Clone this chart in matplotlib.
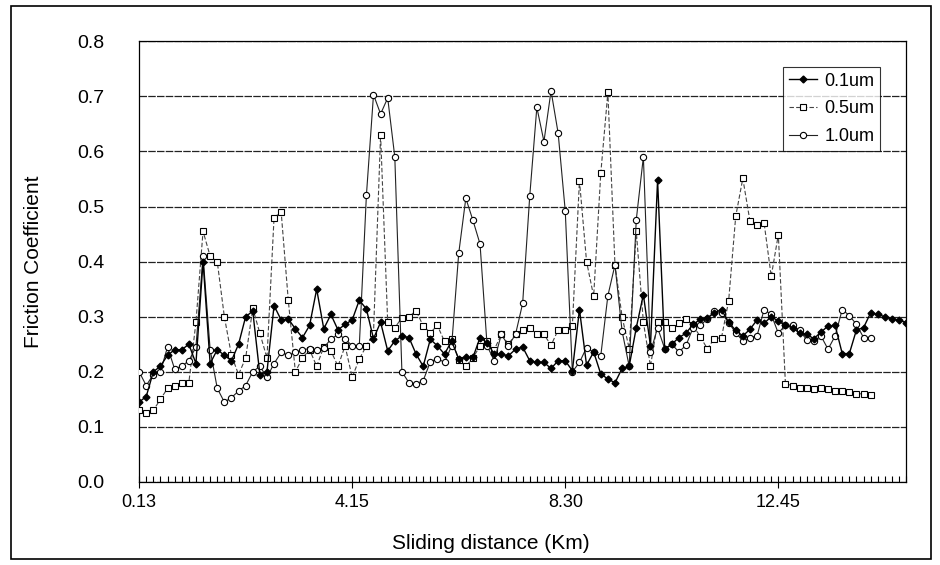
import numpy as np
import matplotlib
matplotlib.use("Agg")
import matplotlib.pyplot as plt
from matplotlib.patches import Rectangle

plt.rcParams['font.family'] = ['Liberation Sans', 'DejaVu Sans']

# friction coefficient per measuring point (category axis)
um01 = [0.145, 0.155, 0.20, 0.21, 0.23, 0.24, 0.24, 0.25, 0.215, 0.40,
        0.215, 0.24, 0.23, 0.22, 0.25, 0.30, 0.31, 0.195, 0.20, 0.32,
        0.294, 0.296, 0.278, 0.262, 0.284, 0.35, 0.278, 0.304, 0.276, 0.286,
        0.294, 0.33, 0.314, 0.26, 0.29, 0.238, 0.256, 0.265, 0.262, 0.232,
        0.21, 0.259, 0.247, 0.232, 0.256, 0.223, 0.226, 0.226, 0.262, 0.253,
        0.232, 0.232, 0.229, 0.241, 0.245, 0.22, 0.217, 0.217, 0.206, 0.22,
        0.22, 0.202, 0.313, 0.212, 0.236, 0.196, 0.187, 0.18, 0.206, 0.21,
        0.28, 0.34, 0.247, 0.548, 0.241, 0.25, 0.262, 0.27, 0.286, 0.295,
        0.298, 0.307, 0.313, 0.29, 0.275, 0.265, 0.277, 0.294, 0.288, 0.30,
        0.292, 0.284, 0.28, 0.27, 0.268, 0.26, 0.272, 0.283, 0.284, 0.233,
        0.233, 0.276, 0.28, 0.307, 0.304, 0.30, 0.296, 0.294, 0.289]

um05 = [0.13, 0.125, 0.13, 0.15, 0.17, 0.175, 0.18, 0.18, 0.29, 0.455,
        0.41, 0.40, 0.30, 0.23, 0.195, 0.225, 0.315, 0.27, 0.225, 0.48,
        0.49, 0.33, 0.20, 0.225, 0.24, 0.21, 0.245, 0.238, 0.21, 0.247,
        0.19, 0.223, 0.247, 0.27, 0.63, 0.29, 0.28, 0.298, 0.30, 0.311,
        0.283, 0.271, 0.284, 0.255, 0.259, 0.222, 0.21, 0.225, 0.247, 0.255,
        0.24, 0.268, 0.25, 0.268, 0.276, 0.28, 0.268, 0.268, 0.248, 0.276,
        0.276, 0.283, 0.547, 0.40, 0.337, 0.56, 0.707, 0.394, 0.30, 0.242,
        0.455, 0.29, 0.21, 0.29, 0.29, 0.28, 0.289, 0.296, 0.284, 0.264,
        0.242, 0.26, 0.262, 0.328, 0.482, 0.551, 0.474, 0.467, 0.47, 0.373,
        0.449, 0.178, 0.175, 0.17, 0.17, 0.168, 0.17, 0.168, 0.165, 0.165,
        0.163, 0.16, 0.16, 0.158, None, None, None, None, None]

um10 = [0.20, 0.175, 0.195, 0.20, 0.245, 0.205, 0.21, 0.22, 0.245, 0.41,
        0.24, 0.17, 0.145, 0.153, 0.165, 0.175, 0.20, 0.21, 0.19, 0.215,
        0.235, 0.23, 0.235, 0.24, 0.242, 0.24, 0.244, 0.259, 0.268, 0.26,
        0.247, 0.247, 0.52, 0.703, 0.668, 0.697, 0.59, 0.20, 0.18, 0.178,
        0.184, 0.218, 0.224, 0.217, 0.247, 0.415, 0.515, 0.475, 0.432, 0.247,
        0.22, 0.268, 0.247, 0.268, 0.324, 0.519, 0.68, 0.618, 0.71, 0.633,
        0.492, 0.20, 0.217, 0.244, 0.235, 0.229, 0.338, 0.394, 0.274, 0.21,
        0.476, 0.59, 0.235, 0.28, 0.242, 0.25, 0.236, 0.248, 0.28, 0.285,
        0.295, 0.31, 0.307, 0.289, 0.271, 0.256, 0.262, 0.265, 0.313, 0.304,
        0.27, 0.285, 0.284, 0.275, 0.258, 0.256, 0.265, 0.241, 0.265, 0.313,
        0.302, 0.286, 0.262, 0.262, None, None, None, None, None]

tick_pos = [0, 30, 60, 90]
tick_labels = ["0.13", "4.15", "8.30", "12.45"]
y_ticks = [0.0, 0.1, 0.2, 0.3, 0.4, 0.5, 0.6, 0.7, 0.8]

fig = plt.figure(figsize=(9.4, 5.65), dpi=100)
ax = fig.add_axes([0.148, 0.147, 0.816, 0.780])

x = np.arange(len(um01))
ax.plot(x, np.array(um01, dtype=float), color="black", lw=1.0, marker="D",
        ms=3.5, mfc="black", mec="black", label="0.1um", zorder=4)
ax.plot(x, np.array(um05, dtype=float), color="#444444", lw=0.8, ls=(0, (4, 2)),
        marker="s", ms=4, mfc="white", mec="black", mew=0.8, label="0.5um", zorder=3)
ax.plot(x, np.array(um10, dtype=float), color="#222222", lw=0.8, marker="o",
        ms=4.5, mfc="white", mec="black", mew=0.8, label="1.0um", zorder=3)

ax.set_xlim(0, len(um01) - 1)
ax.set_ylim(0, 0.8)
ax.set_yticks(y_ticks)
ax.set_yticklabels([f"{v:.1f}" for v in y_ticks], fontsize=14)
ax.set_xticks(tick_pos)
ax.set_xticklabels(tick_labels, fontsize=13)
ax.set_xticks(x, minor=True)
ax.tick_params(axis="x", which="minor", direction="in", length=4, width=0.8)
ax.tick_params(axis="x", which="major", direction="inout", length=8, width=0.8, pad=5)
ax.tick_params(axis="y", length=0, pad=25)
ax.yaxis.grid(True, color="#222222", lw=0.9, ls=(0, (6, 1)))
ax.set_axisbelow(True)
for s in ax.spines.values():
    s.set_color("black")
    s.set_linewidth(0.9)

ax.set_ylabel("Friction Coefficient", fontsize=15)
ax.yaxis.set_label_coords(-0.125, 0.5)
ax.set_xlabel("Sliding distance (Km)", fontsize=15)
ax.xaxis.set_label_coords(0.458, -0.118)

leg = ax.legend(loc="upper right", bbox_to_anchor=(0.966, 0.941), fontsize=13,
                frameon=True, fancybox=False, borderpad=0.3, handlelength=1.6,
                handletextpad=0.4, labelspacing=0.6, borderaxespad=0)
leg.get_frame().set_edgecolor("black")
leg.get_frame().set_linewidth(0.8)

fig.patches.append(Rectangle((0.012, 0.01), 0.978, 0.98, transform=fig.transFigure,
                             fill=False, edgecolor="black", lw=1.2))

fig.savefig("out.png", dpi=100)
